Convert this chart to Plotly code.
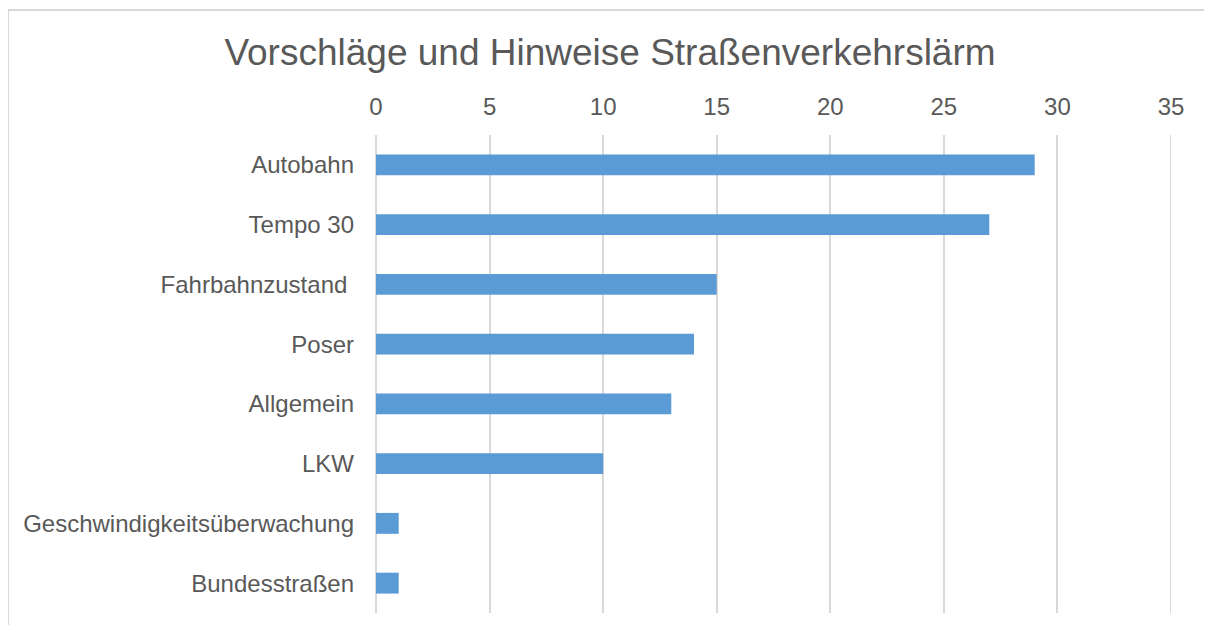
import plotly.graph_objects as go

categories = ["Autobahn", "Tempo 30", "Fahrbahnzustand\u00a0", "Poser", "Allgemein", "LKW",
              "Geschwindigkeitsüberwachung", "Bundesstraßen"]
values = [29, 27, 15, 14, 13, 10, 1, 1]
x_ticks = [0, 5, 10, 15, 20, 25, 30, 35]
title_text = "Vorschläge und Hinweise Straßenverkehrslärm"

# page body has an 8px margin, so the figure is drawn smaller and shifted
W, H = 1196, 617
ml, mr, mt, mb = 368, 33, 127, 12
pw, ph = W - ml - mr, H - mt - mb

fig = go.Figure(go.Bar(
    x=values, y=categories, orientation="h",
    marker=dict(color="#5b9bd5", line=dict(width=0)),
    width=0.35,
))

grid = "#d9d9d9"
text_color = "#595959"
top_y = (H - mb - 2) / ph
left_x = (0 - ml) / pw
fig.update_layout(
    width=W, height=H,
    margin=dict(l=ml, r=mr, t=mt, b=mb, autoexpand=False),
    paper_bgcolor="white", plot_bgcolor="white",
    showlegend=False,
    font=dict(family="Liberation Sans, Arial, sans-serif", color=text_color, size=24),
    title=dict(text=title_text, x=602 / W, xanchor="center", y=1 - 44 / H, yanchor="middle",
               font=dict(size=37, color=text_color)),
    xaxis=dict(range=[0, 35], tickvals=x_ticks, side="top", showgrid=True,
               gridcolor=grid, gridwidth=2, zeroline=True, zerolinecolor=grid, zerolinewidth=2,
               showline=False, ticks="", ticklabelstandoff=14,
               tickfont=dict(size=24, color=text_color)),
    yaxis=dict(categoryorder="array", categoryarray=categories, autorange="reversed",
               showgrid=False, zeroline=False, showline=False, ticks="",
               ticklabelstandoff=21, tickfont=dict(size=24, color=text_color)),
    shapes=[
        dict(type="line", xref="x", yref="paper", x0=x_ticks[-1], x1=x_ticks[-1], y0=0, y1=1,
             line=dict(color=grid, width=2), layer="below"),
        dict(type="line", xref="paper", yref="paper", x0=left_x, x1=left_x,
             y0=(H - mb - (H + 50)) / ph, y1=top_y, line=dict(color=grid, width=2)),
        dict(type="line", xref="paper", yref="paper", x0=left_x, x1=(W + 50 - ml) / pw,
             y0=top_y, y1=top_y, line=dict(color=grid, width=2)),
    ],
)

fig.write_html("out.html")
